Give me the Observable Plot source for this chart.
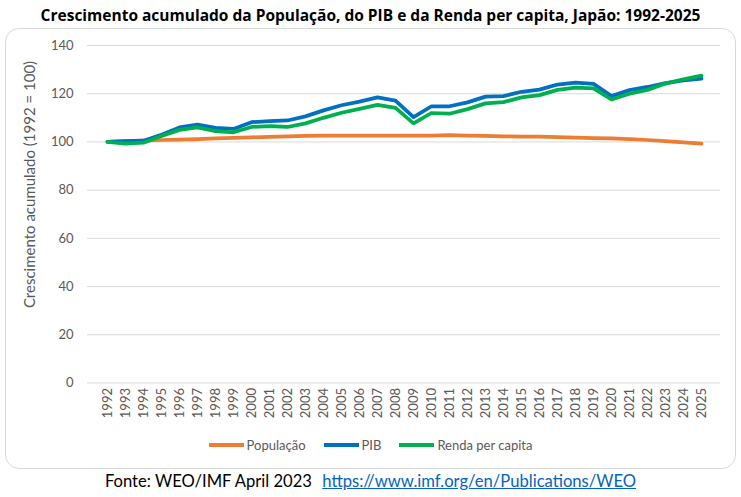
<!DOCTYPE html>
<html>
<head>
<meta charset="utf-8">
<script src="https://cdn.jsdelivr.net/npm/d3@7"></script>
<script src="https://cdn.jsdelivr.net/npm/@observablehq/plot@0.6"></script>
<style>
  html, body { margin: 0; padding: 0; background: #fff; }
  body { width: 741px; height: 497px; position: relative; overflow: hidden; font-family: Lato, "Open Sans", sans-serif; }
  #title { position: absolute; left: 0; top: 4px; width: 741px; text-align: center; font-family: "Open Sans", Lato, sans-serif; font-weight: bold; font-size: 15.5px; color: #000; }
  #box { position: absolute; left: 5px; top: 28px; width: 729px; height: 439px; border: 1px solid #d9d9d9; border-radius: 14px; }
  #chart { position: absolute; left: 0; top: 0; }
  #legend { position: absolute; left: 0; top: 408px; width: 729px; display: flex; justify-content: center; align-items: center; font-size: 13px; color: #595959; }
  .item { display: flex; align-items: center; margin: 0 9px; }
  .sw { width: 35px; height: 4px; margin-right: 3px; }
  #footer { position: absolute; left: 0; top: 471px; width: 741px; text-align: center; font-size: 16.6px; color: #000; }
  #footer a { color: #0563C1; text-decoration: underline; margin-left: 6px; }
</style>
</head>
<body>
<div id="title">Crescimento acumulado da População, do PIB e da Renda per capita, Japão: 1992-2025</div>
<div id="box">
  <div id="chart"></div>
  <div id="legend"></div>
</div>
<div id="footer">Fonte: WEO/IMF April 2023 <a>https://www.imf.org/en/Publications/WEO</a></div>
<script>
const years = [1992,1993,1994,1995,1996,1997,1998,1999,2000,2001,2002,2003,2004,2005,2006,2007,2008,2009,2010,2011,2012,2013,2014,2015,2016,2017,2018,2019,2020,2021,2022,2023,2024,2025];
const populacao = [100,100.3,100.5,100.8,101,101.2,101.5,101.7,101.9,102.1,102.3,102.5,102.6,102.6,102.6,102.6,102.6,102.6,102.6,102.8,102.6,102.5,102.3,102.2,102.2,102,101.8,101.6,101.5,101.2,100.8,100.3,99.8,99.3];
const pib = [100,100.3,100.5,103,106,107.2,105.8,105.4,108.2,108.6,108.9,110.6,113.1,115.2,116.7,118.5,117.1,110.3,114.8,114.8,116.4,118.8,119,120.8,121.7,123.8,124.6,124.1,119,121.5,122.8,124.4,125.5,126.3];
const renda = [100,99.3,99.7,102.5,105,106,104.5,104,106.2,106.6,106.2,107.7,110,112.1,113.7,115.4,114.1,107.7,112,111.7,113.6,116,116.5,118.5,119.4,121.6,122.5,122.2,117.6,120,121.6,124.2,126,127.5];
const seriesNames = ["População", "PIB", "Renda per capita"];
const seriesColors = ["#ED7D31", "#0070C0", "#00B050"];
const yTicks = [0,20,40,60,80,100,120,140];

const seriesValues = [populacao, pib, renda];
const rows = [];
seriesNames.forEach((name, i) => {
  years.forEach((yr, j) => rows.push({series: name, year: String(yr), value: seriesValues[i][j]}));
});

const chart = Plot.plot({
  width: 729,
  height: 404,
  marginLeft: 81,
  marginRight: 15,
  marginTop: 16,
  marginBottom: 50.5,
  style: { fontFamily: "Lato, 'Open Sans', sans-serif", color: "#595959", background: "transparent" },
  x: { type: "point", domain: years.map(String), padding: 0.5 },
  y: { domain: [0, 140] },
  color: { domain: seriesNames, range: seriesColors },
  marks: [
    Plot.gridY(yTicks, { stroke: "#d9d9d9", strokeOpacity: 1, strokeWidth: 1 }),
    Plot.axisY(yTicks, { tickSize: 0, tickPadding: 14, label: null, fontSize: 13, fill: "#595959" }),
    Plot.axisX({ tickSize: 0, tickRotate: -90, tickPadding: 5, label: null, fontSize: 13, fill: "#595959" }),
    Plot.text(["Crescimento acumulado (1992 = 100)"], { frameAnchor: "left", textAnchor: "middle", rotate: -90, dx: -57, dy: -29.75, fontSize: 15, fill: "#595959" }),
    Plot.line(rows, { x: "year", y: "value", z: "series", stroke: "series", strokeWidth: 3.75, strokeLinejoin: "round", strokeLinecap: "round" })
  ]
});
document.getElementById("chart").appendChild(chart);

const legend = document.getElementById("legend");
seriesNames.forEach((name, i) => {
  const it = document.createElement("div");
  it.className = "item";
  const sw = document.createElement("div");
  sw.className = "sw";
  sw.style.background = seriesColors[i];
  const tx = document.createElement("span");
  tx.textContent = name;
  it.appendChild(sw); it.appendChild(tx);
  legend.appendChild(it);
});
</script>
</body>
</html>
